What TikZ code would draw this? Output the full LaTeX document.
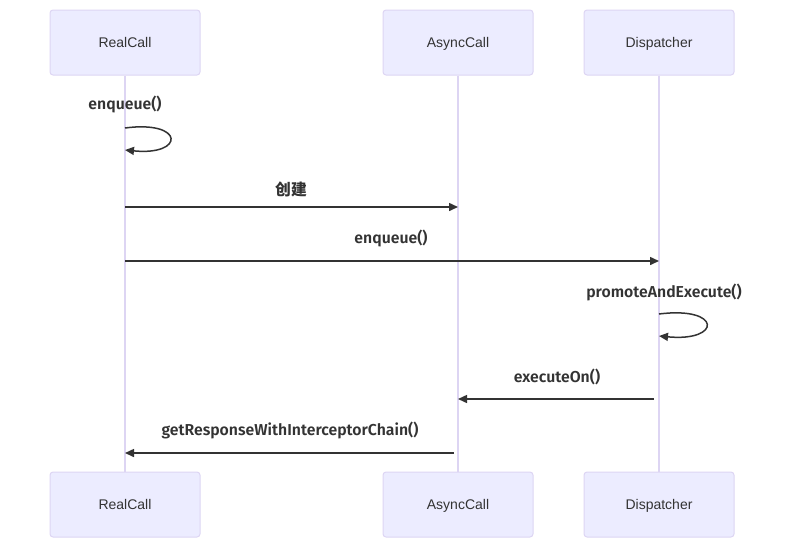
\documentclass[tikz,border=0pt]{standalone}
\usepackage{fontspec}
\setmainfont{Liberation Sans}
\newfontfamily\lblfont{Fira Sans}[BoldFont={Fira Sans SemiBold}]
\newfontfamily\cjkfont{Noto Sans CJK SC}
\usetikzlibrary{arrows.meta}
\definecolor{actorfill}{HTML}{ECECFF}
\definecolor{actorline}{HTML}{DDD5F3}
\definecolor{msgline}{HTML}{333333}
\begin{document}
\begin{tikzpicture}[x=1pt,y=-1pt,
  actor/.style={draw=actorline,fill=actorfill,line width=1pt,rounded corners=3pt,
    minimum width=150pt,minimum height=65pt,inner sep=0pt,text height=10pt,text depth=0pt,
    font=\fontsize{14}{16}\selectfont,text=msgline},
  life/.style={draw=actorline,line width=1.5pt},
  msg/.style={draw=msgline,line width=1.5pt,-{Triangle[length=9pt,width=8pt]}},
  lbl/.style={text=msgline,font=\lblfont\bfseries\fontsize{15.8}{18}\selectfont,inner sep=0pt}]
\useasboundingbox (0,0) rectangle (794,549);
% participants, top and bottom
\node[actor] (rcT) at (125,42.5) {RealCall};
\node[actor] (acT) at (458,42.5) {AsyncCall};
\node[actor] (dpT) at (659,42.5) {Dispatcher};
\node[actor] (rcB) at (125,504.5) {RealCall};
\node[actor] (acB) at (458,504.5) {AsyncCall};
\node[actor] (dpB) at (659,504.5) {Dispatcher};
% lifelines
\draw[life] (rcT.south) -- (rcB.north);
\draw[life] (acT.south) -- (acB.north);
\draw[life] (dpT.south) -- (dpB.north);
% anchor points on the lifelines
\coordinate (r1a) at (125,128);
\coordinate (r1b) at (125,150);
\coordinate (r2) at (125,207);
\coordinate (a2) at (458,207);
\coordinate (r3) at (125,261);
\coordinate (d3) at (659,261);
\coordinate (d4a) at (659,314);
\coordinate (d4b) at (659,336);
\coordinate (d5) at (654,399);
\coordinate (a5) at (458,399);
\coordinate (a6) at (454,453);
\coordinate (r6) at (125,453);
% messages
\node[lbl] (m1) at (125,104) {enqueue()};
\draw[msg] (r1a) .. controls (185,120) and (185,156) .. (r1b);
\node[lbl] (m2) at (291,189) {\cjkfont\bfseries 创建};
\draw[msg] (r2) -- (a2);
\node[lbl] (m3) at (391,238) {enqueue()};
\draw[msg] (r3) -- (d3);
\node[lbl] (m4) at (664,292) {promoteAndExecute()};
\draw[msg] (d4a) .. controls (722,306) and (722,342) .. (d4b);
\node[lbl] (m5) at (557,377) {executeOn()};
\draw[msg] (d5) -- (a5);
\node[lbl] (m6) at (290,430) {getResponseWithInterceptorChain()};
\draw[msg] (a6) -- (r6);
\end{tikzpicture}
\end{document}
